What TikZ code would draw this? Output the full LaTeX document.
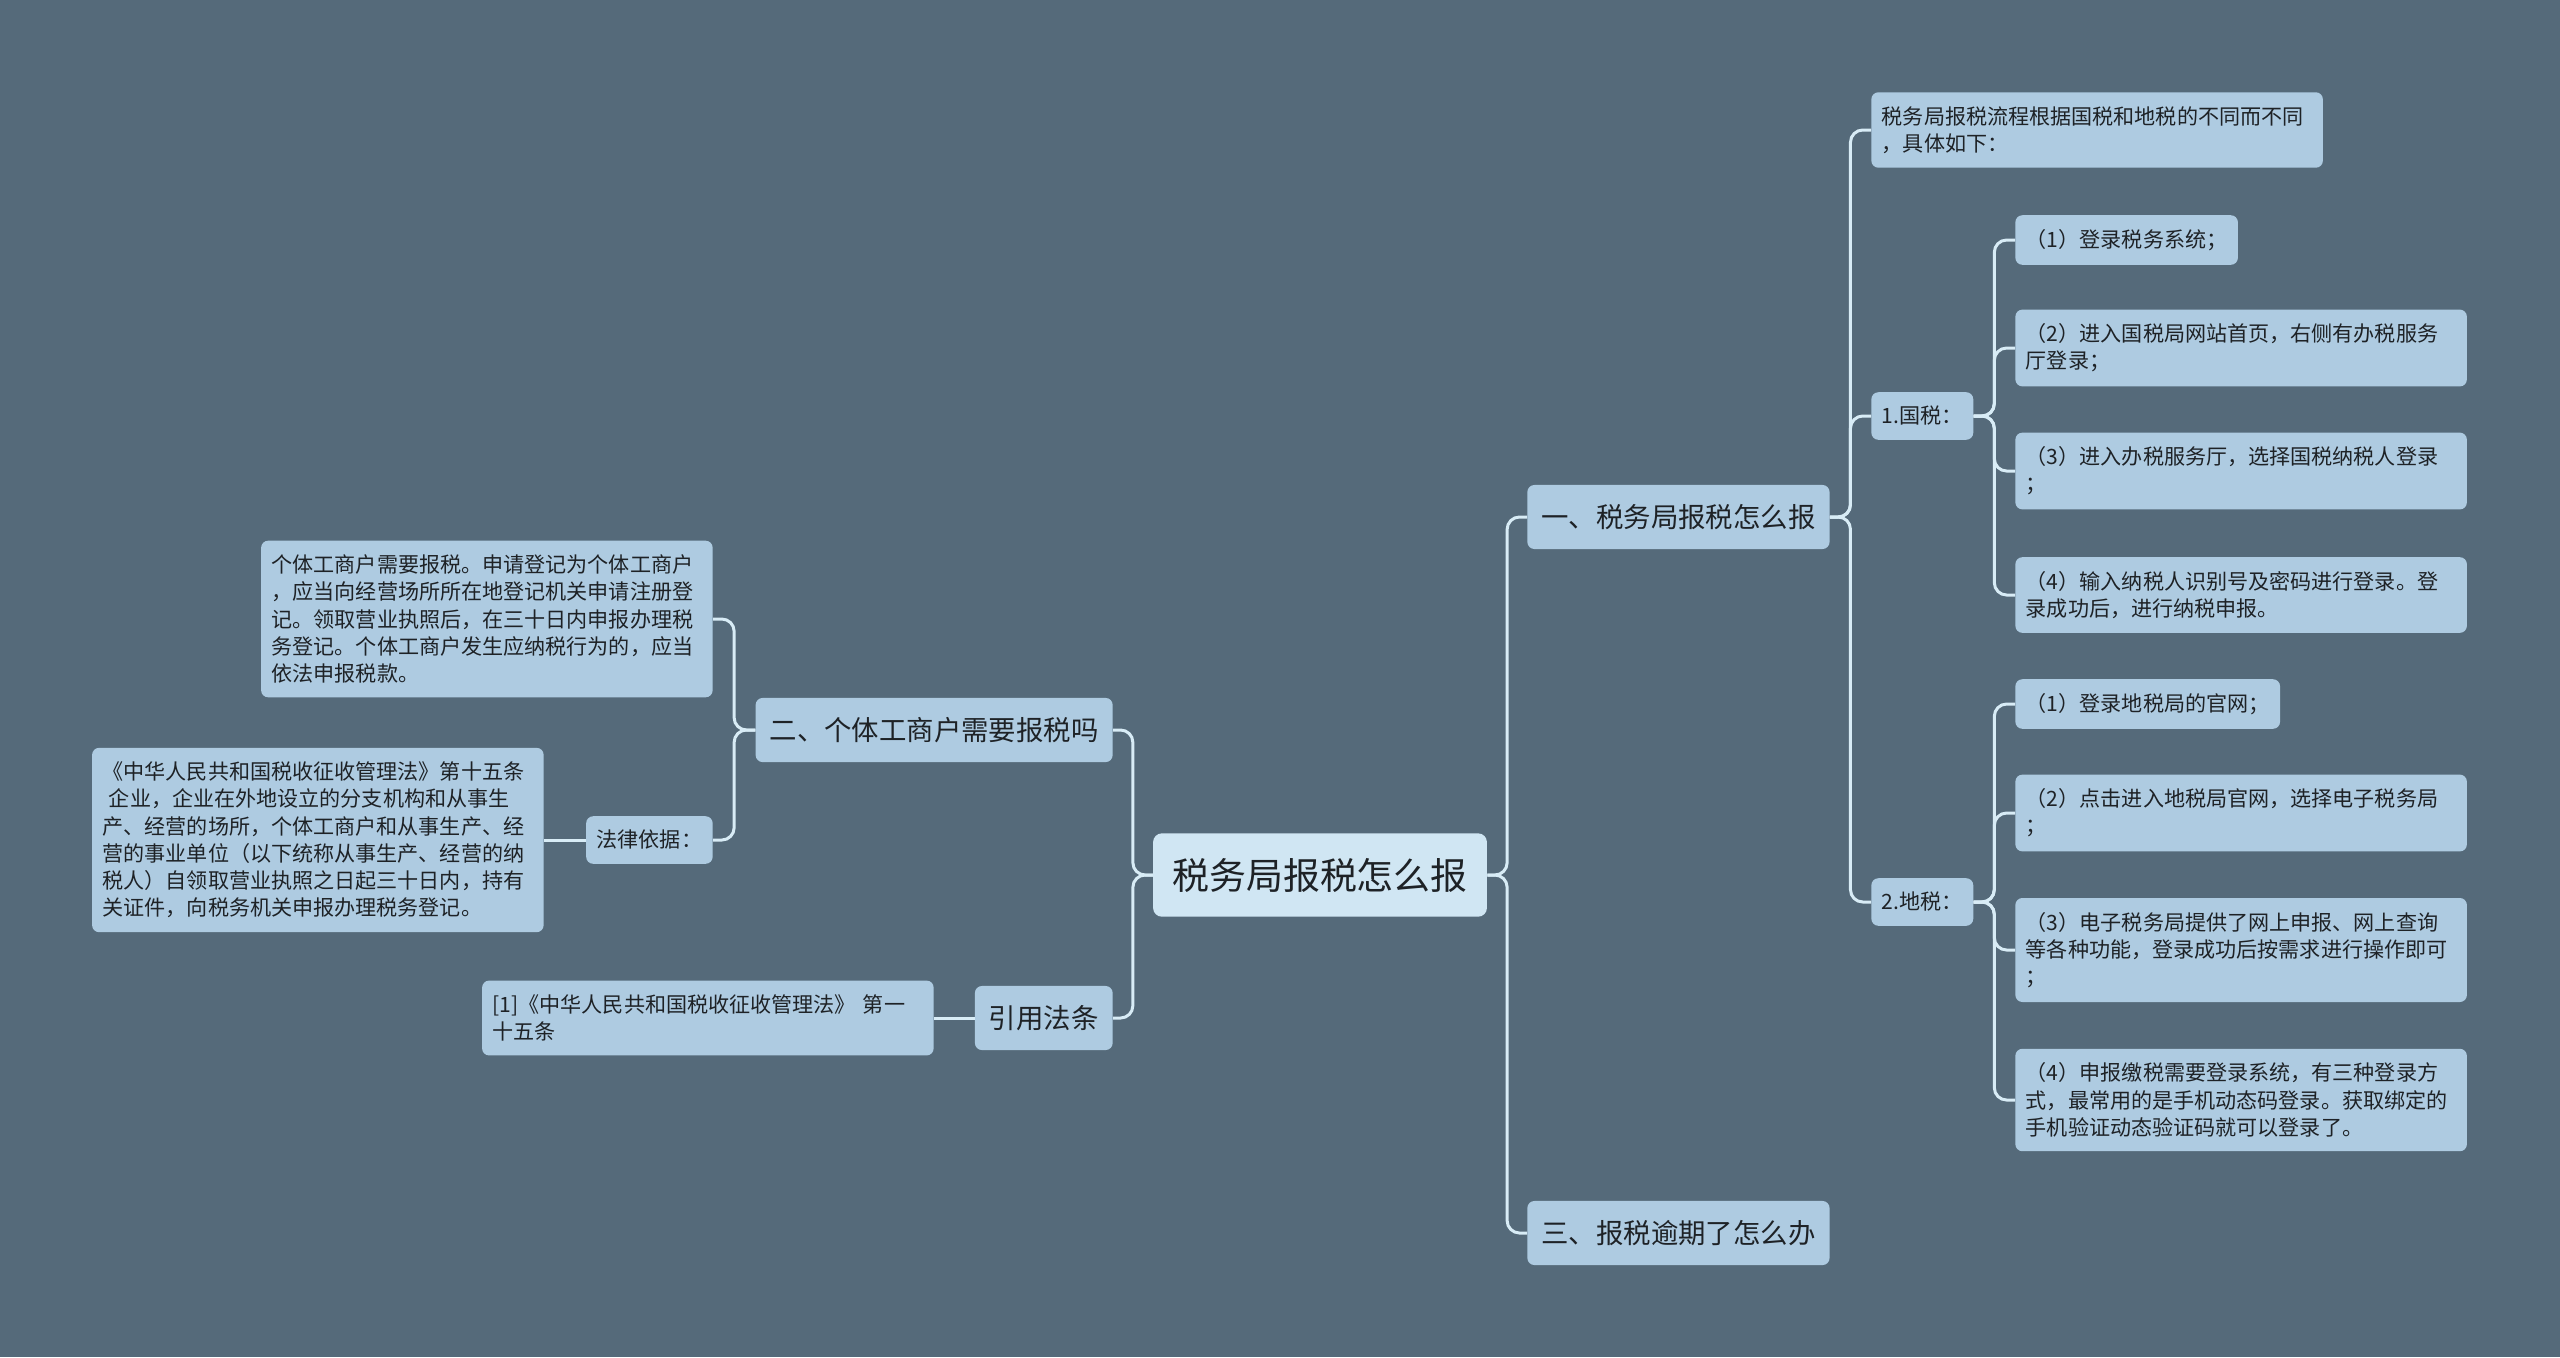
\documentclass[tikz,border=0pt]{standalone}
\usepackage{fontspec}
\setmainfont{Noto Sans CJK SC}
\usepackage{xcolor}
\usepackage{tikz}
\usetikzlibrary{positioning, calc}
\definecolor{slatebg}{HTML}{556A7A}
\definecolor{topicblue}{HTML}{AECBE1}
\definecolor{rootblue}{HTML}{D0E6F3}
\definecolor{linkblue}{HTML}{D8ECF6}
\definecolor{inkgrey}{HTML}{1E2226}

\tikzset{
  topic/.style={fill=topicblue, rounded corners=4pt, text=inkgrey,
    font=\fontsize{15.6pt}{19pt}\selectfont, inner xsep=8pt, inner ysep=11pt},
  leaf/.style={fill=topicblue, rounded corners=4pt, text=inkgrey,
    font=\fontsize{12pt}{15.5pt}\selectfont, inner xsep=6pt, inner ysep=8pt, align=left},
  wide/.style={leaf, text width=245pt},
  link/.style={draw=linkblue, line width=1.7pt, rounded corners=7pt},
}

\begin{document}
\begin{tikzpicture}[x=0.02cm, y=-0.02cm]
    \useasboundingbox (0,0) rectangle (2560,1357);
    \fill[slatebg] (0,0) rectangle (2560,1357);

    \node[fill=rootblue, rounded corners=5pt, text=inkgrey, inner xsep=11pt, inner ysep=14pt,
          font=\fontsize{21pt}{25pt}\selectfont] (root) at (1320,875) {税务局报税怎么报};

    \node[topic, anchor=west] (one) at (1527,517) {一、税务局报税怎么报};
    \node[topic, anchor=west] (three) at (1527,1233) {三、报税逾期了怎么办};
    \node[topic, anchor=east] (two) at (1113,730) {二、个体工商户需要报税吗};
    \node[topic, anchor=east] (cite) at (1113,1018) {引用法条};

    \node[wide, anchor=west] (flow) at (1871,130) {税务局报税流程根据国税和地税的不同而不同\\，具体如下：};
    \node[leaf, anchor=west] (guo) at (1871,416) {1.国税：};
    \node[leaf, anchor=west] (di) at (1871,902) {2.地税：};

    \node[leaf, anchor=west] (g1) at (2015,240) {（1）登录税务系统；};
    \node[wide, anchor=west] (g2) at (2015,348) {（2）进入国税局网站首页，右侧有办税服务\\厅登录；};
    \node[wide, anchor=west] (g3) at (2015,471) {（3）进入办税服务厅，选择国税纳税人登录\\；};
    \node[wide, anchor=west] (g4) at (2015,595) {（4）输入纳税人识别号及密码进行登录。登\\录成功后，进行纳税申报。};

    \node[leaf, anchor=west] (d1) at (2015,704) {（1）登录地税局的官网；};
    \node[wide, anchor=west] (d2) at (2015,813) {（2）点击进入地税局官网，选择电子税务局\\；};
    \node[wide, anchor=west] (d3) at (2015,950) {（3）电子税务局提供了网上申报、网上查询\\等各种功能，登录成功后按需求进行操作即可\\；};
    \node[wide, anchor=west] (d4) at (2015,1100) {（4）申报缴税需要登录系统，有三种登录方\\式，最常用的是手机动态码登录。获取绑定的\\手机验证动态验证码就可以登录了。};

    \node[wide, anchor=east] (need) at (713,619) {个体工商户需要报税。申请登记为个体工商户\\，应当向经营场所所在地登记机关申请注册登\\记。领取营业执照后，在三十日内申报办理税\\务登记。个体工商户发生应纳税行为的，应当\\依法申报税款。};
    \node[leaf, anchor=east] (basis) at (713,840) {法律依据：};
    \node[wide, anchor=east] (lawtext) at (544,840) {《中华人民共和国税收征收管理法》第十五条\\\hspace*{0.3em}企业，企业在外地设立的分支机构和从事生\\产、经营的场所，个体工商户和从事生产、经\\营的事业单位（以下统称从事生产、经营的纳\\税人）自领取营业执照之日起三十日内，持有\\关证件，向税务机关申报办理税务登记。};
    \node[wide, anchor=east] (ref) at (934,1018) {[1]《中华人民共和国税收征收管理法》 第一\\十五条};

    \foreach \kid in {one,three}
      \draw[link] (root.east) -- ($(root.east)!.5!(root.east -| \kid.west)$) |- (\kid.west);
    \foreach \kid in {two,cite}
      \draw[link] (root.west) -- ($(root.west)!.5!(root.west -| \kid.east)$) |- (\kid.east);
    \foreach \kid in {flow,guo,di}
      \draw[link] (one.east) -- ($(one.east)!.5!(one.east -| \kid.west)$) |- (\kid.west);
    \foreach \kid in {g1,g2,g3,g4}
      \draw[link] (guo.east) -- ($(guo.east)!.5!(guo.east -| \kid.west)$) |- (\kid.west);
    \foreach \kid in {d1,d2,d3,d4}
      \draw[link] (di.east) -- ($(di.east)!.5!(di.east -| \kid.west)$) |- (\kid.west);
    \foreach \kid in {need,basis}
      \draw[link] (two.west) -- ($(two.west)!.5!(two.west -| \kid.east)$) |- (\kid.east);
    \draw[link] (basis.west) -- (lawtext.east);
    \draw[link] (cite.west) -- (ref.east);
  \end{tikzpicture}
\end{document}
